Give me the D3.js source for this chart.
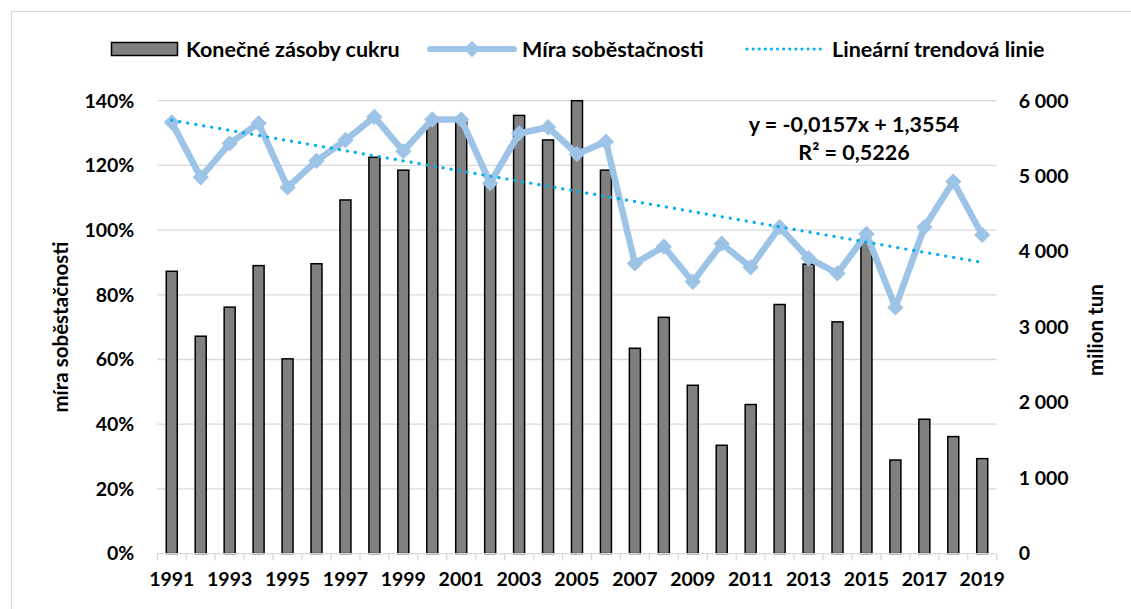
<!DOCTYPE html>
<html>
<head>
<meta charset="utf-8">
<script src="https://cdn.jsdelivr.net/npm/d3@7"></script>
<style>
  body { margin: 0; background: #fff; }
  svg text { font-family: Lato, "Open Sans", sans-serif; font-weight: bold; fill: #000; }
</style>
</head>
<body>
<div id="chart"></div>
<script>
// data
var years = d3.range(1991, 2020);
// Konečné zásoby cukru (right axis, tis. tun)
var stocks = [3740, 2880, 3265, 3815, 2580, 3840, 4685, 5250, 5080, 5720,
  5750, 4900, 5805, 5480, 6000, 5080, 2720, 3130, 2230, 1435,
  1975, 3300, 3835, 3070, 4130, 1240, 1780, 1550, 1258];
// Míra soběstačnosti (left axis)
var selfSufficiency = [1.333, 1.163, 1.268, 1.330, 1.132, 1.214, 1.278, 1.350, 1.244, 1.342,
  1.342, 1.145, 1.299, 1.318, 1.235, 1.273, 0.897, 0.949, 0.840, 0.958,
  0.885, 1.009, 0.913, 0.866, 0.988, 0.761, 1.009, 1.150, 0.985];
// trend line as shown on the chart
var trendSlope = -0.0157;
var trendIntercept = 1.3554;
var leftTicks = [0, 0.2, 0.4, 0.6, 0.8, 1.0, 1.2, 1.4];
var rightTicks = [0, 1000, 2000, 3000, 4000, 5000, 6000];
var xLabels = years.filter(function(y) { return (y - 1991) % 2 === 0; });

var svgWidth = 1131, svgHeight = 609;
var margin = {left: 157.3, right: 1131 - 996.7, top: 100.7, bottom: 609 - 553.6};
var width = svgWidth - margin.left - margin.right;
var height = svgHeight - margin.top - margin.bottom;

var svg = d3.select('#chart').append('svg')
  .attr('width', svgWidth)
  .attr('height', svgHeight);

// chart border
svg.append('rect')
  .attr('x', 11.5).attr('y', 11.5)
  .attr('width', 1140).attr('height', 620)
  .attr('fill', 'none')
  .attr('stroke', '#d9d9d9')
  .attr('stroke-width', 1.2);

var g = svg.append('g')
  .attr('transform', `translate(${margin.left}, ${margin.top})`);

var x = d3.scaleBand().domain(years).range([0, width]).padding(0);
var yLeft = d3.scaleLinear().domain([0, 1.4]).range([height, 0]);
var yRight = d3.scaleLinear().domain([0, 6000]).range([height, 0]);
var cx = function(yr) { return x(yr) + x.bandwidth() / 2; };

// gridlines
g.append('g').selectAll('line')
  .data(leftTicks.slice(1))
  .enter().append('line')
  .attr('x1', 0).attr('x2', width)
  .attr('y1', d => yLeft(d)).attr('y2', d => yLeft(d))
  .attr('stroke', '#d9d9d9').attr('stroke-width', 1.3);

// bars
var barW = 11;
g.append('g').selectAll('rect')
  .data(years)
  .enter().append('rect')
  .attr('x', (d) => cx(d) - barW / 2)
  .attr('y', (d, i) => yRight(stocks[i]))
  .attr('width', barW)
  .attr('height', (d, i) => height - yRight(stocks[i]))
  .attr('fill', '#808080')
  .attr('stroke', '#000')
  .attr('stroke-width', 1.5);

// x axis
var xAxis = g.append('g')
  .attr('transform', `translate(0, ${height})`);
xAxis.append('line')
  .attr('x1', 0).attr('x2', width)
  .attr('stroke', '#d9d9d9').attr('stroke-width', 1.3);
xAxis.selectAll('.tk')
  .data(years.concat([2020]))
  .enter().append('line')
  .attr('x1', d => d === 2020 ? width : x(d))
  .attr('x2', d => d === 2020 ? width : x(d))
  .attr('y1', 0).attr('y2', 7)
  .attr('stroke', '#d9d9d9').attr('stroke-width', 1.3);
xAxis.selectAll('text')
  .data(xLabels)
  .enter().append('text')
  .attr('x', d => cx(d))
  .attr('y', 32)
  .attr('text-anchor', 'middle')
  .attr('font-size', '19.5px')
  .text(d => d);

// left ticks
g.append('g').selectAll('text')
  .data(leftTicks)
  .enter().append('text')
  .attr('x', -23)
  .attr('y', d => yLeft(d))
  .attr('dy', '0.35em')
  .attr('text-anchor', 'end')
  .attr('font-size', '19.5px')
  .text(d => Math.round(d * 100) + '%');

// right ticks
var fmt = function(v) { return v === 0 ? '0' : d3.format(',')(v).replace(',', ' '); };
g.append('g').selectAll('text')
  .data(rightTicks)
  .enter().append('text')
  .attr('x', width + 22)
  .attr('y', d => yRight(d))
  .attr('dy', '0.35em')
  .attr('text-anchor', 'start')
  .attr('font-size', '19.5px')
  .text(d => fmt(d));

// axis titles
svg.append('text')
  .attr('transform', 'translate(68, 327) rotate(-90)')
  .attr('text-anchor', 'middle')
  .attr('font-size', '20.5px')
  .text('míra soběstačnosti');
svg.append('text')
  .attr('transform', 'translate(1103, 330) rotate(-90)')
  .attr('text-anchor', 'middle')
  .attr('font-size', '20.5px')
  .text('milion tun');

// self-sufficiency line
var line = d3.line()
  .x((d, i) => cx(years[i]))
  .y(d => yLeft(d));
g.append('path')
  .datum(selfSufficiency)
  .attr('d', line)
  .attr('fill', 'none')
  .attr('stroke', '#9dc3e6')
  .attr('stroke-width', 6.5)
  .attr('stroke-linejoin', 'round');

var diamond = d3.symbol().type(d3.symbolDiamond2).size(170);
g.append('g').selectAll('path')
  .data(selfSufficiency)
  .enter().append('path')
  .attr('d', diamond)
  .attr('transform', (d, i) => `translate(${cx(years[i])}, ${yLeft(d)})`)
  .attr('fill', '#9dc3e6');

// trend line
var first = 1, last = years.length;
g.append('line')
  .attr('x1', cx(years[0])).attr('y1', yLeft(trendSlope * first + trendIntercept))
  .attr('x2', cx(years[last - 1])).attr('y2', yLeft(trendSlope * last + trendIntercept))
  .attr('stroke', '#00b0f0')
  .attr('stroke-width', 3.2)
  .attr('stroke-linecap', 'round')
  .attr('stroke-dasharray', '0.1 8');

// equation
svg.append('text')
  .attr('x', 854).attr('y', 132)
  .attr('text-anchor', 'middle')
  .attr('font-size', '21.5px')
  .text('y = -0,0157x + 1,3554');
svg.append('text')
  .attr('x', 854).attr('y', 160)
  .attr('text-anchor', 'middle')
  .attr('font-size', '21.5px')
  .text('R² = 0,5226');

// legend
var leg = svg.append('g').attr('transform', 'translate(0, 49)');
leg.append('rect')
  .attr('x', 111.5).attr('y', -6.5)
  .attr('width', 66).attr('height', 13)
  .attr('fill', '#808080').attr('stroke', '#000').attr('stroke-width', 1.5);
leg.append('text').attr('x', 186).attr('dy', '0.35em').attr('font-size', '21.5px')
  .text('Konečné zásoby cukru');
leg.append('line')
  .attr('x1', 430).attr('x2', 514)
  .attr('stroke', '#9dc3e6').attr('stroke-width', 6).attr('stroke-linecap', 'round');
leg.append('path')
  .attr('d', diamond)
  .attr('transform', 'translate(472, 0)')
  .attr('fill', '#9dc3e6');
leg.append('text').attr('x', 522).attr('dy', '0.35em').attr('font-size', '21.5px')
  .text('Míra soběstačnosti');
leg.append('line')
  .attr('x1', 747).attr('x2', 824)
  .attr('stroke', '#00b0f0').attr('stroke-width', 3)
  .attr('stroke-linecap', 'round')
  .attr('stroke-dasharray', '0.1 6');
leg.append('text').attr('x', 832).attr('dy', '0.35em').attr('font-size', '21.5px')
  .text('Lineární trendová linie');
</script>
</body>
</html>
